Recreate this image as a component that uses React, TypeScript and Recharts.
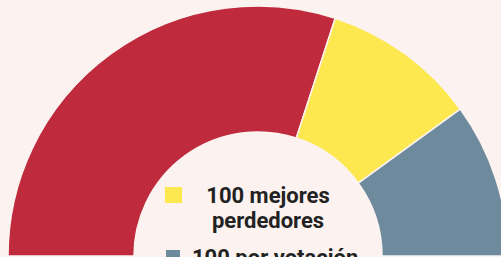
import { Cell, Pie, PieChart } from 'recharts';

const categories = ['300 otros', '100 mejores perdedores', '100 por votación'];
const seats = [300, 100, 100];
const colors = ['#bf2b3c', '#fde84f', '#6e8b9d'];

const bg = '#fcf3f1';

const data = categories.map((name, i) => ({ name, value: seats[i] }));

export default function App() {
    return (
        <div style={{ position: 'absolute', left: 0, top: 0, width: 501, height: 257, background: bg, overflow: 'hidden' }}>
            <PieChart width={501} height={257} margin={{ top: 0, right: 0, bottom: 0, left: 0 }}>
                <Pie
                    data={data}
                    dataKey="value"
                    cx={258}
                    cy={256}
                    startAngle={180}
                    endAngle={0}
                    innerRadius={124}
                    outerRadius={250}
                    stroke={bg}
                    strokeWidth={1.5}
                    isAnimationActive={false}
                >
                    {data.map((d, i) => (
                        <Cell key={d.name} fill={colors[i]} />
                    ))}
                </Pie>
            </PieChart>

            {/* legend */}
            <div style={{ position: 'absolute', left: 165, top: 187, width: 17, height: 16, background: colors[1] }} />
            <div
                style={{
                    position: 'absolute',
                    left: 188,
                    top: 183,
                    width: 160,
                    textAlign: 'center',
                    fontFamily: 'Roboto, sans-serif',
                    fontWeight: 700,
                    fontSize: 22,
                    lineHeight: '25px',
                    color: '#222',
                }}
            >
                100 mejores
                <br />
                perdedores
            </div>
            <div style={{ position: 'absolute', left: 166, top: 250, width: 14, height: 14, background: colors[2] }} />
            <div
                style={{
                    position: 'absolute',
                    left: 192,
                    top: 245,
                    whiteSpace: 'nowrap',
                    fontFamily: 'Roboto, sans-serif',
                    fontWeight: 700,
                    fontSize: 22,
                    lineHeight: '25px',
                    color: '#222',
                }}
            >
                {categories[2]}
            </div>
        </div>
    );
}
